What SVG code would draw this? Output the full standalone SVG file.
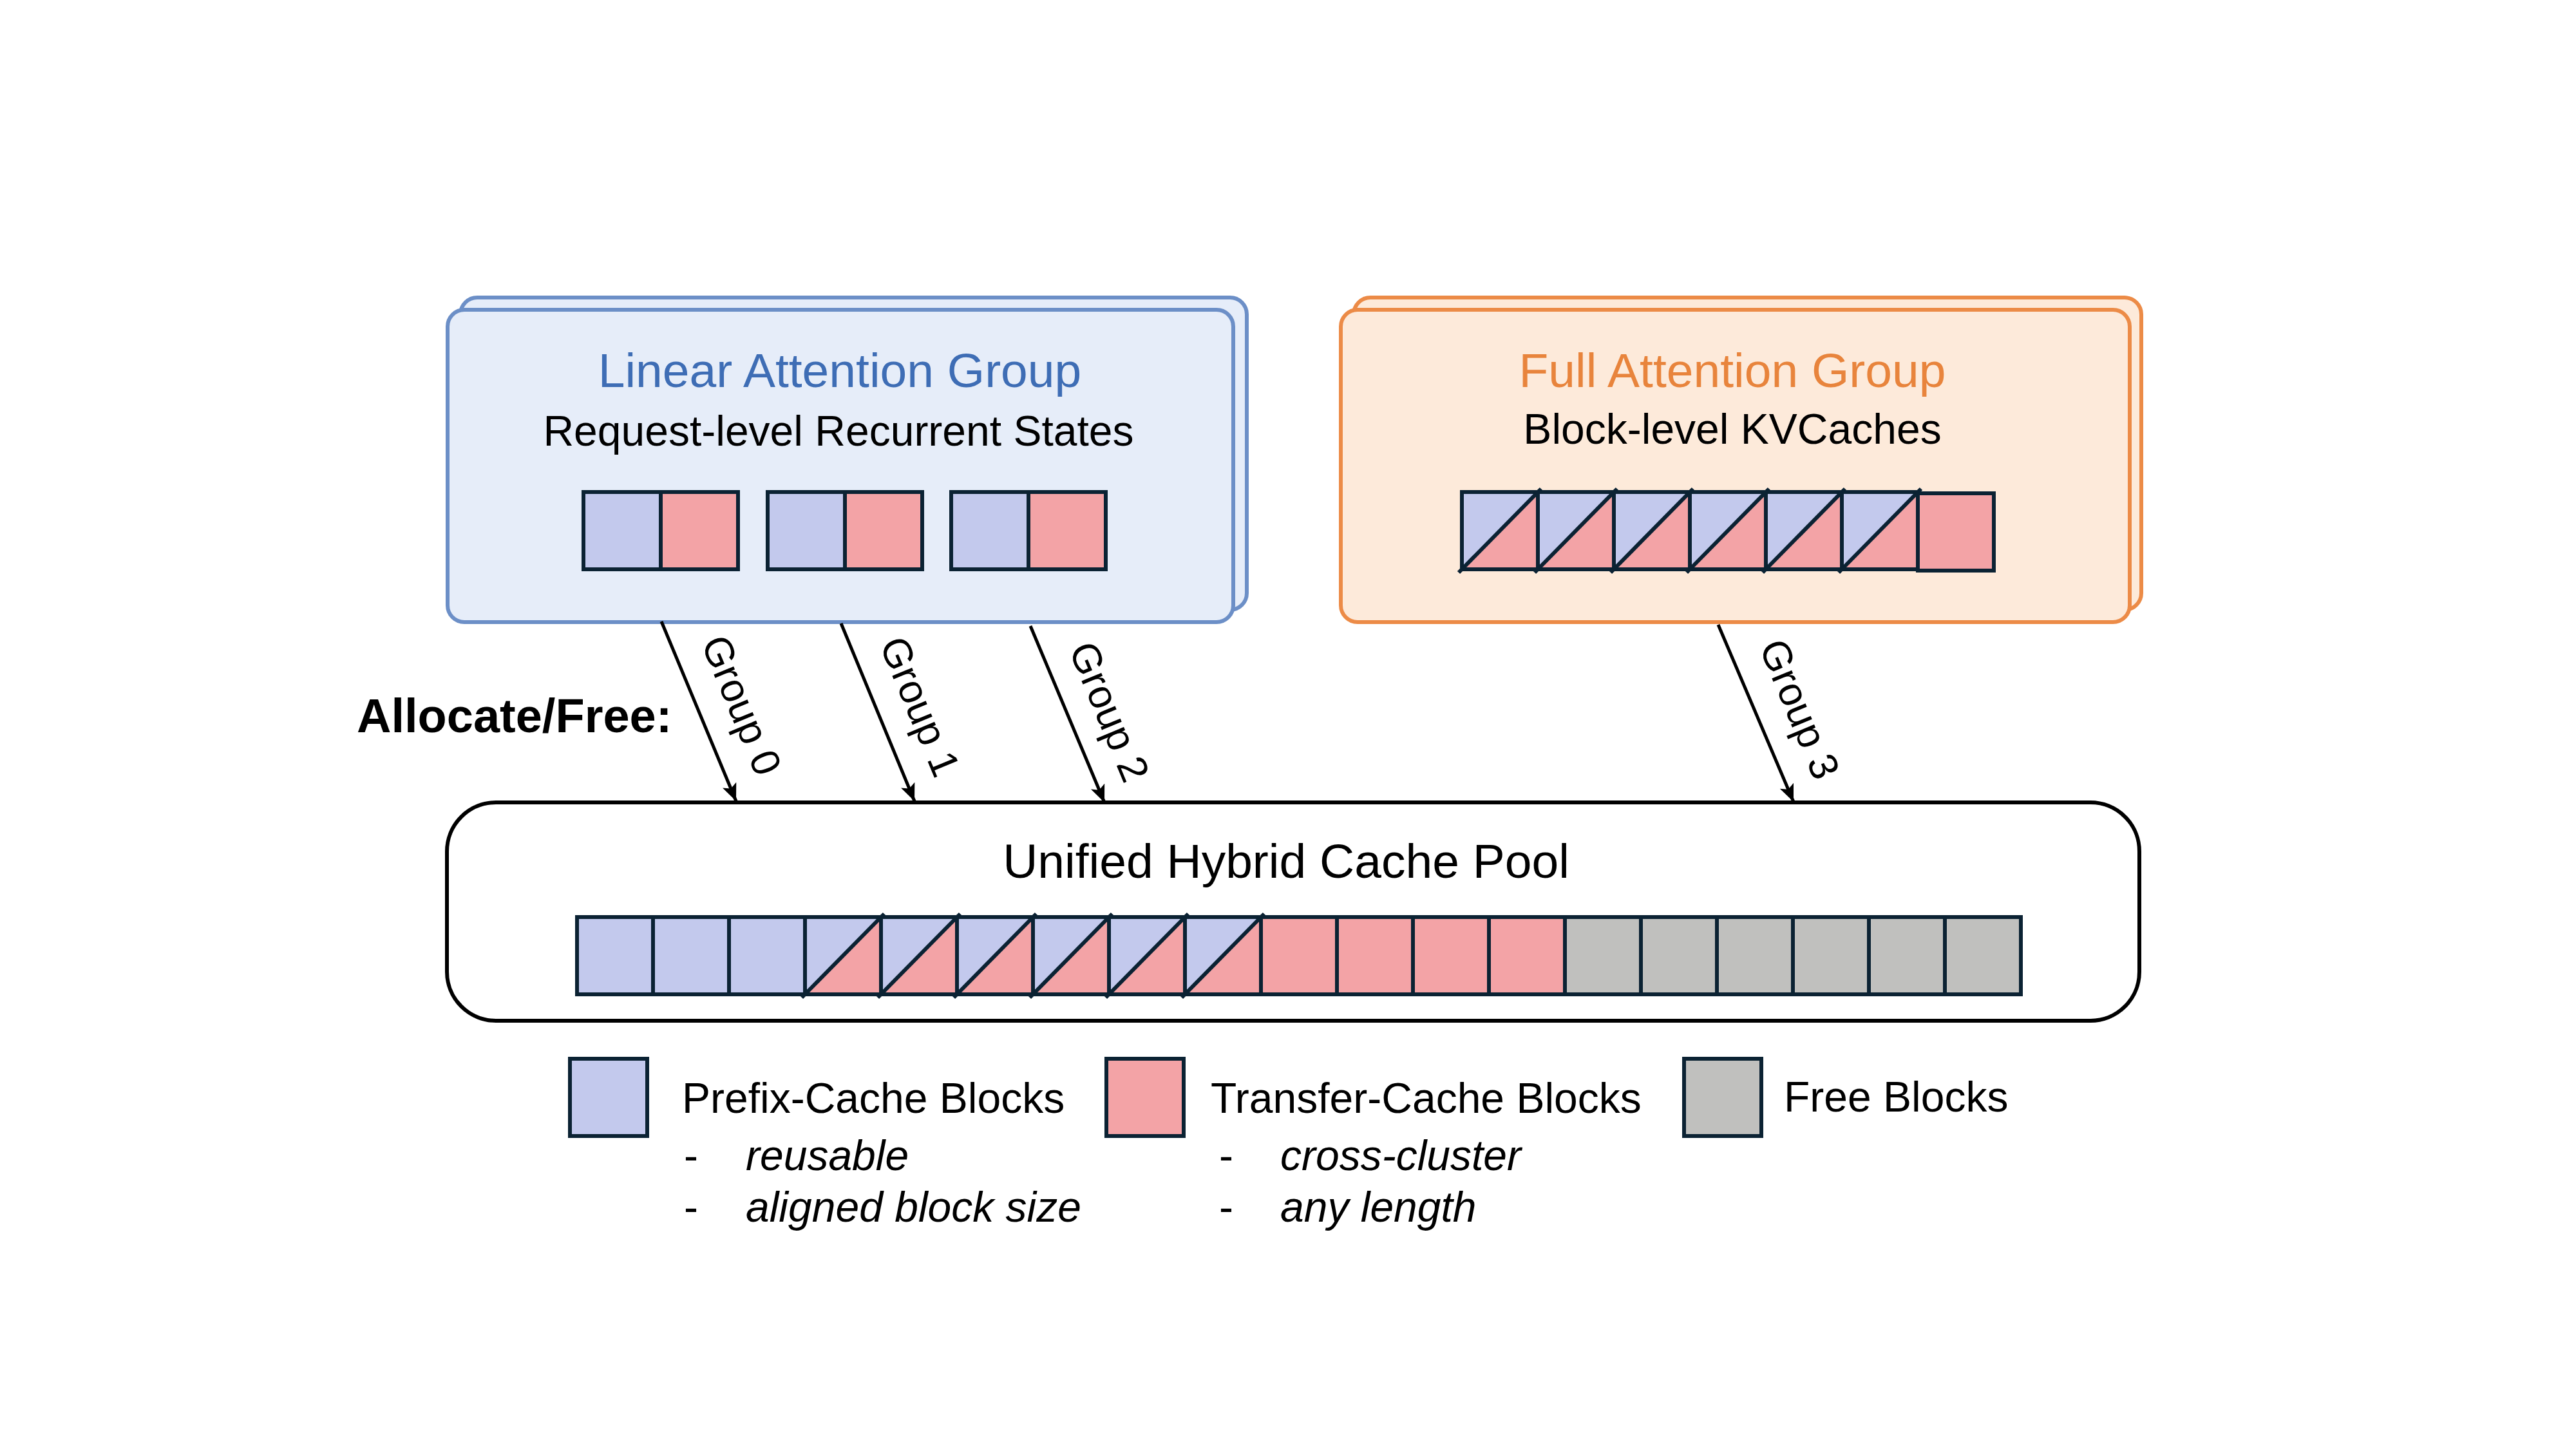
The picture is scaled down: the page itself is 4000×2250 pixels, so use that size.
<svg xmlns="http://www.w3.org/2000/svg" xmlns:xlink="http://www.w3.org/1999/xlink" width="4000" height="2250" viewBox="0 0 4000 2250">
<style>
text{font-family:"Liberation Sans",Arial,sans-serif}
.t{font-size:75px;text-anchor:middle}
.s{font-size:66px;text-anchor:middle;fill:#000}
.lg{font-size:66px;fill:#000}
.it{font-size:66px;font-style:italic;fill:#000}
.gl{font-size:63px;text-anchor:middle;fill:#000}
.cb{stroke:#0B2233;stroke-width:6}
.blue{fill:#C3C9ED}
.pink{fill:#F3A3A6}
.gray{fill:#C0C0BE}
.lin{fill:#E6EDF9;stroke:#6C8FC7;stroke-width:6}
.ful{fill:#FDEADA;stroke:#EC8B47;stroke-width:6}
.arr{stroke:#000;stroke-width:5;fill:none;marker-end:url(#ah)}
</style>
<defs>
<marker id="ah" markerUnits="userSpaceOnUse" markerWidth="30" markerHeight="26" refX="27" refY="12.5" orient="auto">
<path d="M0,1 L27,12.5 L0,24 L6,12.5 Z" fill="#000"/>
</marker>
<g id="hc">
<polygon points="0,0 118,0 0,120" class="blue"/>
<polygon points="118,0 118,120 0,120" class="pink"/>
<rect width="118" height="120" fill="none" class="cb"/>
<line x1="-5" y1="125" x2="123" y2="-5" class="cb"/>
</g>
<rect id="bc" width="118" height="120" class="blue cb"/>
<rect id="pc" width="118" height="120" class="pink cb"/>
<rect id="gc" width="118" height="120" class="gray cb"/>
</defs>
<rect width="4000" height="2250" fill="#fff"/>

<g id="linear-group">
<rect x="715" y="462" width="1221" height="485" rx="26" class="lin"/>
<rect x="695" y="481" width="1220" height="485" rx="26" class="lin"/>
<text x="1304" y="601" class="t" fill="#3E6DB5">Linear Attention Group</text>
<text x="1302" y="692" class="s">Request-level Recurrent States</text>
<rect x="906" y="764" width="120" height="120" class="blue cb"/>
<rect x="1026" y="764" width="120" height="120" class="pink cb"/>
<rect x="1192" y="764" width="120" height="120" class="blue cb"/>
<rect x="1312" y="764" width="120" height="120" class="pink cb"/>
<rect x="1477" y="764" width="120" height="120" class="blue cb"/>
<rect x="1597" y="764" width="120" height="120" class="pink cb"/>
</g>

<g id="full-group">
<rect x="2102" y="462" width="1223" height="485" rx="26" class="ful"/>
<rect x="2082" y="481" width="1225" height="485" rx="26" class="ful"/>
<text x="2690" y="601" class="t" fill="#E8843C">Full Attention Group</text>
<text x="2690" y="689" class="s">Block-level KVCaches</text>
<use xlink:href="#hc" x="2270" y="764"/>
<use xlink:href="#hc" x="2388" y="764"/>
<use xlink:href="#hc" x="2506" y="764"/>
<use xlink:href="#hc" x="2624" y="764"/>
<use xlink:href="#hc" x="2742" y="764"/>
<use xlink:href="#hc" x="2860" y="764"/>
<use xlink:href="#pc" x="2978" y="766"/>
</g>

<g id="allocate-label">
<text x="554" y="1137" font-size="74" font-weight="bold" fill="#000">Allocate/Free:</text>
</g>

<g id="pool">
<rect x="694" y="1246" width="2628" height="339" rx="76" fill="#fff" stroke="#000" stroke-width="6"/>
<text x="1997" y="1363" class="t" fill="#000">Unified Hybrid Cache Pool</text>
<use xlink:href="#bc" x="896" y="1424"/>
<use xlink:href="#bc" x="1014" y="1424"/>
<use xlink:href="#bc" x="1132" y="1424"/>
<use xlink:href="#hc" x="1250" y="1424"/>
<use xlink:href="#hc" x="1368" y="1424"/>
<use xlink:href="#hc" x="1486" y="1424"/>
<use xlink:href="#hc" x="1604" y="1424"/>
<use xlink:href="#hc" x="1722" y="1424"/>
<use xlink:href="#hc" x="1840" y="1424"/>
<use xlink:href="#pc" x="1958" y="1424"/>
<use xlink:href="#pc" x="2076" y="1424"/>
<use xlink:href="#pc" x="2194" y="1424"/>
<use xlink:href="#pc" x="2312" y="1424"/>
<use xlink:href="#gc" x="2430" y="1424"/>
<use xlink:href="#gc" x="2548" y="1424"/>
<use xlink:href="#gc" x="2666" y="1424"/>
<use xlink:href="#gc" x="2784" y="1424"/>
<use xlink:href="#gc" x="2902" y="1424"/>
<use xlink:href="#gc" x="3020" y="1424"/>
</g>

<g id="connectors">
<line x1="1027" y1="965" x2="1143" y2="1244" class="arr"/>
<line x1="1306" y1="968" x2="1420" y2="1244" class="arr"/>
<line x1="1600" y1="972" x2="1715" y2="1246" class="arr"/>
<line x1="2668" y1="970" x2="2785" y2="1245" class="arr"/>
<text class="gl" transform="translate(1152,1095) rotate(67.5)" dy="22">Group 0</text>
<text class="gl" transform="translate(1429,1097) rotate(67.5)" dy="22">Group 1</text>
<text class="gl" transform="translate(1723,1105) rotate(67.5)" dy="22">Group 2</text>
<text class="gl" transform="translate(2795,1101) rotate(67.5)" dy="22">Group 3</text>
</g>

<g id="legend-prefix">
<rect x="885" y="1644" width="120" height="120" class="blue cb"/>
<text x="1059" y="1728" class="lg">Prefix-Cache Blocks</text>
<text x="1062" y="1817" class="lg">-</text>
<text x="1158" y="1817" class="it">reusable</text>
<text x="1062" y="1897" class="lg">-</text>
<text x="1158" y="1897" class="it">aligned block size</text>
</g>

<g id="legend-transfer">
<rect x="1718" y="1644" width="120" height="120" class="pink cb"/>
<text x="1880" y="1728" class="lg">Transfer-Cache Blocks</text>
<text x="1893" y="1817" class="lg">-</text>
<text x="1988" y="1817" class="it">cross-cluster</text>
<text x="1893" y="1897" class="lg">-</text>
<text x="1988" y="1897" class="it">any length</text>
</g>

<g id="legend-free">
<rect x="2615" y="1644" width="120" height="120" class="gray cb"/>
<text x="2770" y="1726" class="lg">Free Blocks</text>
</g>
</svg>
